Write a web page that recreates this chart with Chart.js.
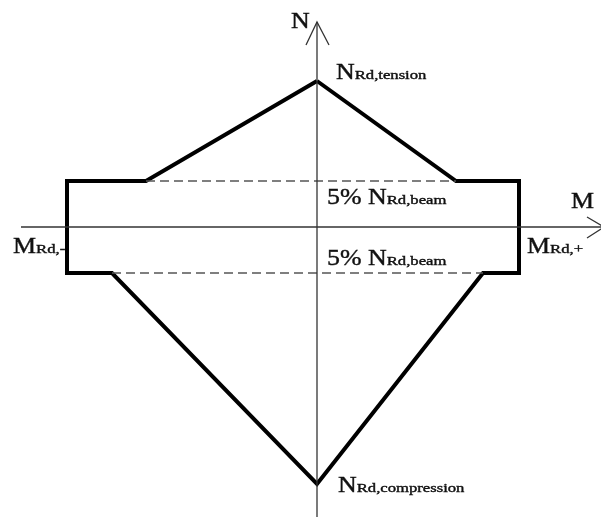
<!DOCTYPE html>
<html>
<head>
<meta charset="utf-8">
<script src="https://cdn.jsdelivr.net/npm/chart.js@4/dist/chart.umd.min.js"></script>
<style>
  html, body { margin: 0; padding: 0; background: #fff; }
  #wrap { width: 601px; height: 517px; position: relative; }
</style>
</head>
<body>
<div id="wrap"><canvas id="chart"></canvas></div>
<script>
// interaction diagram M-N (unidades arbitrárias)
const momentValues = [0, 139, 202, 202, 166, 0, -205, -250, -250, -171, 0];
const axialValues  = [146, 46, 46, -46, -46, -257, -46, -46, 46, 46, 146];

// limites de 5% N (linhas tracejadas)
const dashTopM = [-171, 139];
const dashTopN = [46, 46];
const dashBotM = [-205, 166];
const dashBotN = [-46, -46];

// eixos
const mAxisM = [-296, 290];
const mAxisN = [0, 0];
const nAxisM = [0, 0];
const nAxisN = [-290, 205];
const nArrowM = [-11, 0, 12];
const nArrowN = [182, 205, 182];
const mArrowM = [270, 287, 270];
const mArrowN = [10, 0, -11];

const pts = (xs, ys) => xs.map((x, i) => ({ x: x, y: ys[i] }));

const FONT = '"Liberation Serif", "Times New Roman", serif';

// rótulos: texto normal + subscrito, ancorados num ponto do diagrama
const labels = [
  { main: 'N', sub: '', ax: 0, ay: 205, dx: -26, dy: 6 },
  { main: 'N', sub: 'Rd,tension', ax: 0, ay: 146, dx: 19, dy: -2 },
  { main: '5% N', sub: 'Rd,beam', ax: 0, ay: 46, dx: 10, dy: 23 },
  { main: '5% N', sub: 'Rd,beam', ax: 0, ay: -46, dx: 10, dy: -8 },
  { main: 'M', sub: '', ax: 287, ay: 0, dx: -33, dy: -19 },
  { main: 'M', sub: 'Rd,-', ax: -250, ay: 0, dx: -54, dy: 26 },
  { main: 'M', sub: 'Rd,+', ax: 202, ay: 0, dx: 8, dy: 26 },
  { main: 'N', sub: 'Rd,compression', ax: 0, ay: -257, dx: 21, dy: 8 }
];

const MAIN_SX = 1.08, SUB_SX = 1.28;

const labelPlugin = {
  id: 'labelPlugin',
  afterDatasetsDraw(chart) {
    const ctx = chart.ctx;
    const xs = chart.scales.x, ys = chart.scales.y;
    ctx.save();
    ctx.fillStyle = '#111';
    ctx.strokeStyle = '#111';
    ctx.lineWidth = 0.4;
    ctx.textBaseline = 'alphabetic';
    labels.forEach(l => {
      let x = xs.getPixelForValue(l.ax) + l.dx;
      const y = ys.getPixelForValue(l.ay) + l.dy;
      ctx.font = '24px ' + FONT;
      const w = ctx.measureText(l.main).width * MAIN_SX;
      ctx.save();
      ctx.translate(x, y);
      ctx.scale(MAIN_SX, 1);
      ctx.fillText(l.main, 0, 0);
      ctx.strokeText(l.main, 0, 0);
      ctx.restore();
      x += w;
      if (l.sub) {
        ctx.save();
        ctx.font = '13px ' + FONT;
        ctx.translate(x, y);
        ctx.scale(SUB_SX, 1);
        ctx.fillText(l.sub, 0, 0);
        ctx.strokeText(l.sub, 0, 0);
        ctx.restore();
      }
    });
    ctx.restore();
  }
};

const thin = (data, extra) => Object.assign({
  data: data,
  showLine: true,
  borderColor: '#333',
  borderWidth: 1.3,
  pointRadius: 0,
  fill: false,
  tension: 0
}, extra || {});

new Chart(document.getElementById('chart'), {
  type: 'scatter',
  data: {
    datasets: [
      thin(pts(mAxisM, mAxisN)),
      thin(pts(nAxisM, nAxisN)),
      thin(pts(nArrowM, nArrowN)),
      thin(pts(mArrowM, mArrowN)),
      thin(pts(dashTopM, dashTopN), { borderColor: '#555', borderWidth: 1.6, borderDash: [9, 5] }),
      thin(pts(dashBotM, dashBotN), { borderColor: '#555', borderWidth: 1.6, borderDash: [9, 5] }),
      {
        label: 'M-N',
        data: pts(momentValues, axialValues),
        showLine: true,
        borderColor: '#000',
        borderWidth: 4,
        borderJoinStyle: 'miter',
        pointRadius: 0,
        fill: false,
        tension: 0
      }
    ]
  },
  options: {
    responsive: true,
    maintainAspectRatio: false,
    animation: false,
    layout: { padding: 0 },
    plugins: { legend: { display: false }, tooltip: { enabled: false } },
    scales: {
      x: { type: 'linear', min: -317, max: 284, display: false },
      y: { type: 'linear', min: -290, max: 227, display: false }
    }
  },
  plugins: [labelPlugin]
});
</script>
</body>
</html>
